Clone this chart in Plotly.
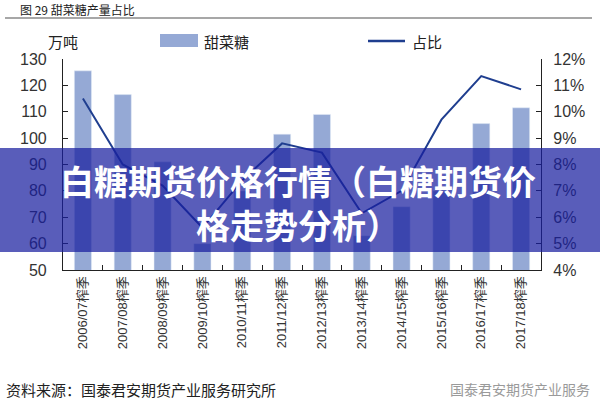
import plotly.graph_objects as go

seasons = ["2006/07榨季", "2007/08榨季", "2008/09榨季", "2009/10榨季", "2010/11榨季", "2011/12榨季",
           "2012/13榨季", "2013/14榨季", "2014/15榨季", "2015/16榨季", "2016/17榨季", "2017/18榨季"]
beet_sugar = [125.5, 116.5, 91, 60, 80, 101.5, 109, 63, 74, 80, 105.5, 111.5]   # 万吨
share_pct = [10.5, 8.0, 7.2, 5.6, 7.4, 8.8, 8.45, 6.15, 7.0, 9.7, 11.35, 10.85]  # %

left_ticks = [50, 60, 70, 80, 90, 100, 110, 120, 130]
right_ticks = [4, 5, 6, 7, 8, 9, 10, 11, 12]
right_labels = ["4%", "5%", "6%", "7%", "8%", "9%", "10%", "11%", "12%"]

BAR = "#95a9d5"
LINE = "#1f3e8f"
AXIS = "#222222"
NUM_FONT = "Liberation Sans Narrow, Liberation Sans, Arial, sans-serif"
CJK_FONT = "Noto Sans CJK SC, sans-serif"

# plot area in page pixels
L, R, T, B = 63, 541, 59, 270


def px(x):
    return (x - L) / (R - L)


def py(y):
    return (B - y) / (B - T)


fig = go.Figure()
fig.add_trace(go.Bar(x=seasons, y=beet_sugar, name="甜菜糖", marker_color=BAR,
                     showlegend=False))
fig.add_trace(go.Scatter(x=seasons, y=share_pct, name="占比", yaxis="y2", mode="lines",
                         line=dict(color=LINE, width=2), showlegend=False))

shapes = [
    # rule under the title
    dict(type="line", xref="paper", yref="paper", x0=px(5), x1=px(592), y0=py(18), y1=py(18),
         line=dict(color="#8a8a8a", width=1.5)),
    # legend swatches
    dict(type="rect", xref="paper", yref="paper", x0=px(160), x1=px(198), y0=py(47), y1=py(34),
         fillcolor=BAR, line_width=0),
    dict(type="line", xref="paper", yref="paper", x0=px(368), x1=px(405), y0=py(41), y1=py(41),
         line=dict(color=LINE, width=2.5)),
    # overlay banner
    dict(type="rect", xref="paper", yref="paper", x0=px(-5), x1=px(605), y0=py(252), y1=py(148),
         fillcolor="rgba(25,30,160,0.72)", line_width=0, layer="above"),
]

annotations = [
    dict(text="图 29 甜菜糖产量占比", xref="paper", yref="paper", x=px(18), y=py(9),
         xanchor="left", yanchor="middle", showarrow=False,
         font=dict(family=CJK_FONT, size=12, color="#222")),
    dict(text="万吨", xref="paper", yref="paper", x=px(46), y=py(41), xanchor="left",
         yanchor="middle", showarrow=False, font=dict(family=CJK_FONT, size=15, color="#222")),
    dict(text="甜菜糖", xref="paper", yref="paper", x=px(202), y=py(41), xanchor="left",
         yanchor="middle", showarrow=False, font=dict(family=CJK_FONT, size=15, color="#222")),
    dict(text="占比", xref="paper", yref="paper", x=px(410), y=py(41), xanchor="left",
         yanchor="middle", showarrow=False, font=dict(family=CJK_FONT, size=15, color="#222")),
    dict(text="资料来源：国泰君安期货产业服务研究所", xref="paper", yref="paper", x=px(4), y=py(389),
         xanchor="left", yanchor="middle", showarrow=False,
         font=dict(family=CJK_FONT, size=15, color="#222")),
    dict(text="国泰君安期货产业服务", xref="paper", yref="paper", x=px(592), y=py(389),
         xanchor="right", yanchor="middle", showarrow=False,
         font=dict(family=CJK_FONT, size=14, color="#9a9a9a")),
    dict(text="<b>白糖期货价格行情（白糖期货价<br>格走势分析）</b>", xref="paper", yref="paper",
         x=px(298), y=py(202), xanchor="center", yanchor="middle", showarrow=False,
         font=dict(family=CJK_FONT, size=34, color="white")),
]

fig.update_layout(
    width=600, height=400,
    margin=dict(l=L, r=600 - R, t=T, b=400 - B),
    paper_bgcolor="white", plot_bgcolor="white",
    bargap=0.57,
    shapes=shapes, annotations=annotations,
    xaxis=dict(type="category", showline=True, linecolor=AXIS, linewidth=1.2,
               ticks="inside", ticklen=5, tickcolor=AXIS, tickson="boundaries",
               tickangle=-90, tickfont=dict(family=NUM_FONT + ", " + CJK_FONT, size=13, color="#333"),
               showgrid=False),
    yaxis=dict(range=[50, 130], tickvals=left_ticks, showline=True, linecolor=AXIS, linewidth=1.2,
               ticks="inside", ticklen=5, tickcolor=AXIS, showgrid=False, zeroline=False,
               ticklabelstandoff=12, tickfont=dict(family=NUM_FONT, size=16, color="#333")),
    yaxis2=dict(range=[4, 12], tickvals=right_ticks, ticktext=right_labels, overlaying="y",
                side="right", showline=True, linecolor=AXIS, linewidth=1.2, ticks="inside",
                ticklen=5, tickcolor=AXIS, showgrid=False, zeroline=False, ticklabelstandoff=8,
                tickfont=dict(family=NUM_FONT, size=16, color="#333")),
)

fig.write_html("out.html", config={"displayModeBar": False},
               post_script="document.body.style.margin='0';")
